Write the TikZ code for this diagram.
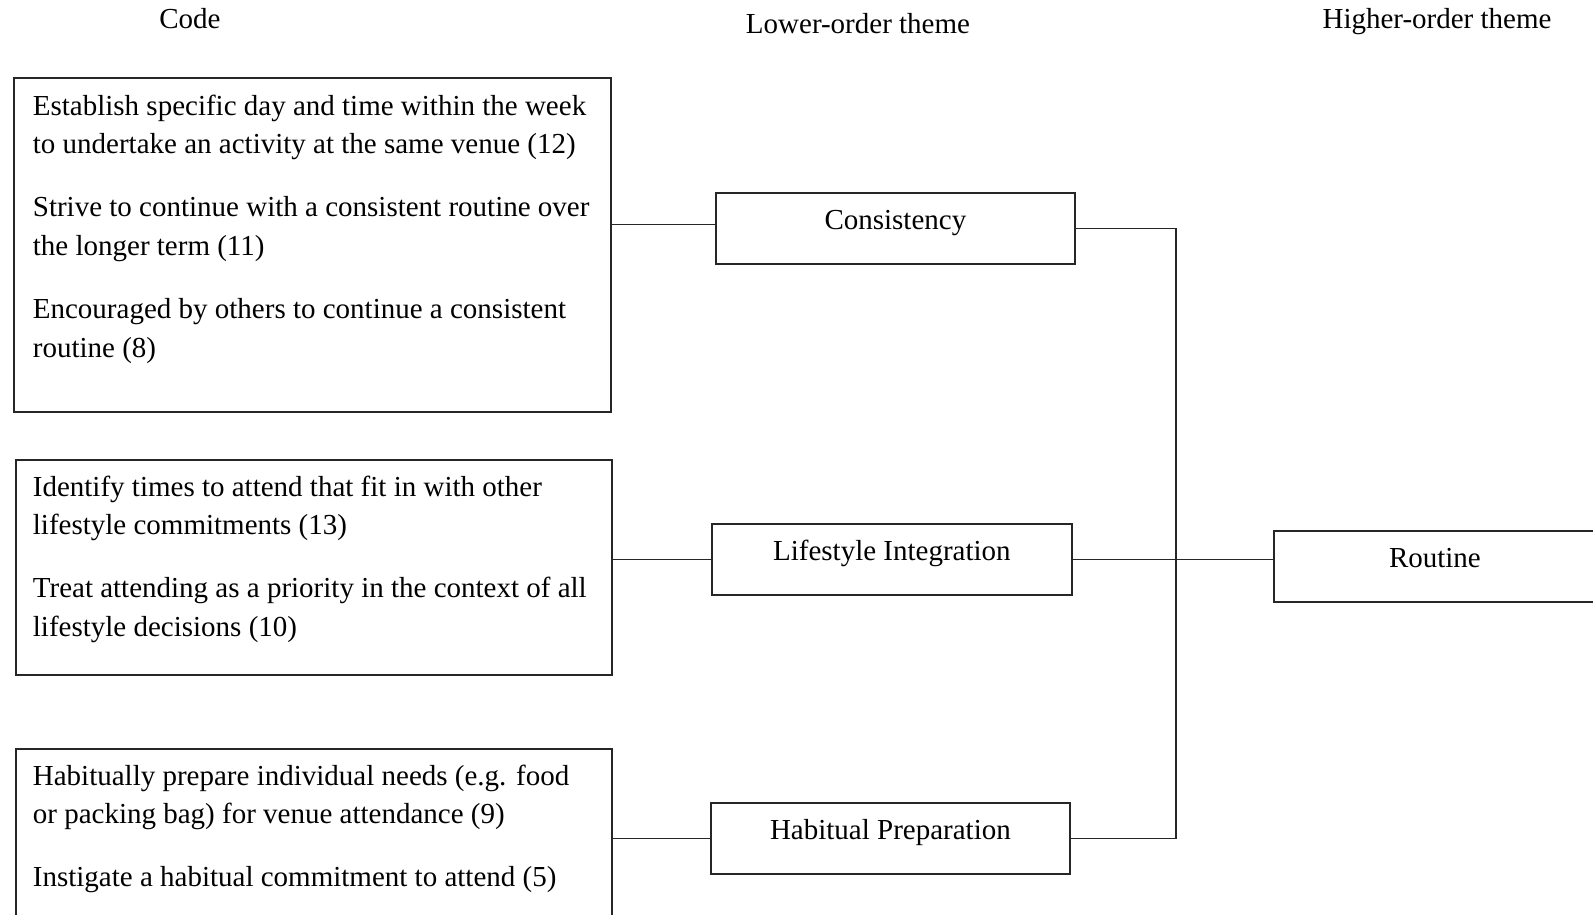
\documentclass[tikz,border=0pt]{standalone}
\usepackage{fontspec}
\setmainfont{Liberation Serif}
\begin{document}
\begin{tikzpicture}[x=1pt, y=-1pt, line width=1.8pt,
  every node/.style={font=\fontsize{29}{38.6}\selectfont, inner sep=0pt},
  codebox/.style={draw=black!85, anchor=north west, minimum width=596pt},
  codetext/.style={anchor=north west, align=left},
  themebox/.style={draw=black!85, anchor=north west, minimum width=359pt,
    text height=37pt, text depth=34pt},
  link/.style={draw=black!85}]
  \clip (0,0) rectangle (1593,914);
  % column headings
  \node[anchor=base] (hcode) at (190,28) {Code};
  \node[anchor=base] (hlower) at (858,33) {Lower-order theme};
  \node[anchor=base] (hhigher) at (1437,28) {Higher-order theme};
  % code boxes
  \node[codebox, minimum width=597pt, minimum height=334pt] (code1) at (13,77) {};
  \node[codetext] (txt1) at (32,94) {Establish specific day and time within the week\\
    to undertake an activity at the same venue (12)\\[24.4pt]
    Strive to continue with a consistent routine over\\
    the longer term (11)\\[24.4pt]
    Encouraged by others to continue a consistent\\
    routine (8)};
  \node[codebox, minimum height=215pt] (code2) at (15,459) {};
  \node[codetext] (txt2) at (32,475) {Identify times to attend that fit in with other\\
    lifestyle commitments (13)\\[24.4pt]
    Treat attending as a priority in the context of all\\
    lifestyle decisions (10)};
  \node[codebox, minimum height=220pt] (code3) at (15,748) {};
  \node[codetext] (txt3) at (32,764) {Habitually prepare individual needs (e.g. food\\
    or packing bag) for venue attendance (9)\\[24.4pt]
    Instigate a habitual commitment to attend (5)};
  % lower-order themes
  \node[themebox] (cons) at (715,192) {Consistency};
  \node[themebox, minimum width=360pt] (life) at (711,523) {Lifestyle Integration};
  \node[themebox] (hab) at (710,802) {Habitual Preparation};
  % higher-order theme
  \node[themebox, minimum width=322pt] (rout) at (1273,530) {Routine};
  % connectors
  \coordinate (spine) at (1176,0);
  \coordinate (consin) at ([yshift=4pt]cons.west);
  \draw[link] (code1.east |- consin) -- (consin);
  \draw[link] (code2.east |- life.west) -- (life.west);
  \draw[link] (code3.east |- hab.west) -- (hab.west);
  \draw[link] (cons.east) -| (spine |- hab.east) -- (hab.east);
  \draw[link] (life.east) -- (spine |- life.east) -- (rout.west |- life.east);
\end{tikzpicture}
\end{document}
